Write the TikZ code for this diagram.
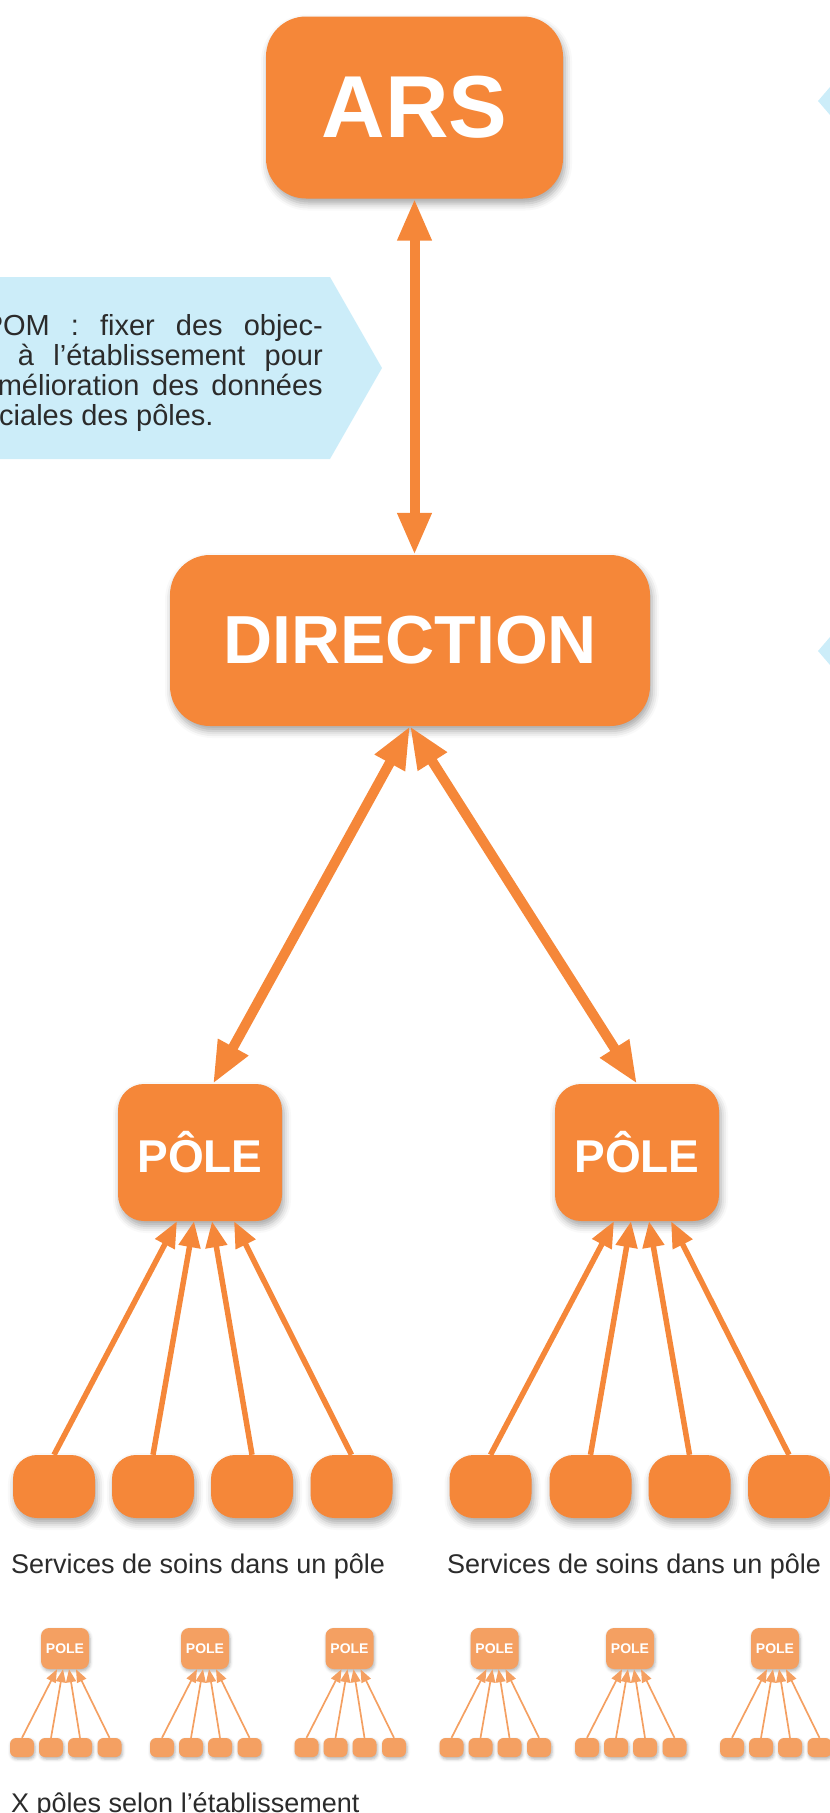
\documentclass[tikz,border=0pt]{standalone}
\usepackage{fontspec}
\setmainfont{Liberation Sans}
\usetikzlibrary{arrows.meta,shadows.blur,calc}
\definecolor{org}{HTML}{F58739}
\definecolor{orgl}{HTML}{F4A062}
\definecolor{calloutc}{HTML}{CCEDF9}
\definecolor{txt}{HTML}{2B2B2B}
\tikzset{
  bigshadow/.style={blur shadow={shadow xshift=2pt,shadow yshift=-5pt,shadow blur radius=7pt,shadow opacity=35}},
  smallshadow/.style={blur shadow={shadow xshift=1pt,shadow yshift=-2pt,shadow blur radius=3pt,shadow opacity=30}},
  bigbox/.style={fill=org, rounded corners=40pt, inner sep=0pt, text=white, font=\bfseries, bigshadow},
  polebox/.style={fill=org, rounded corners=26pt, inner sep=0pt, text=white, font=\bfseries\fontsize{46}{46}\selectfont,
    minimum width=164pt, minimum height=137pt, bigshadow},
  svcbox/.style={fill=org, rounded corners=24pt, inner sep=0pt, minimum width=82pt, minimum height=63pt, bigshadow},
  spole/.style={fill=orgl, rounded corners=8pt, inner sep=0pt, text=white, font=\bfseries\fontsize{14}{14}\selectfont,
    minimum width=48pt, minimum height=41pt, smallshadow},
  ssvc/.style={fill=orgl, rounded corners=6pt, inner sep=0pt, minimum width=24pt, minimum height=19pt, smallshadow},
  bigarrow/.style={draw=org, line width=10pt, {Triangle[width=32pt,length=42pt]}-{Triangle[width=32pt,length=42pt]}},
  midarrow/.style={draw=org, line width=5.5pt, -{Triangle[width=21pt,length=26pt]}},
  smallarrow/.style={draw=orgl, line width=1.7pt, -{Triangle[width=10pt,length=13pt]}},
  cotext/.style={inner sep=0pt, text=txt, font=\fontsize{29}{29}\selectfont},
  label/.style={inner sep=0pt, text=txt, font=\fontsize{27}{27}\selectfont, anchor=base west}
}
\begin{document}
\begin{tikzpicture}[x=1pt,y=-1pt]
\useasboundingbox (0,0) rectangle (830,1813);
\clip (0,0) rectangle (830,1813);

% callouts
\fill[calloutc] (-2,277) -- (330,277) -- (382,368) -- (330,459) -- (-2,459) -- cycle;
\fill[calloutc] (818,101) -- (830,87) -- (832,87) -- (832,115) -- (830,115) -- cycle;
\fill[calloutc] (818,651) -- (830,637) -- (832,637) -- (832,665) -- (830,665) -- cycle;

\node[cotext, anchor=base east] (c1) at (323,335) {\hbox to 339pt{POM\hfill:\hfill fixer\hfill des\hfill objec-}};
\node[cotext, anchor=base east] (c2) at (323,365) {\hbox to 305pt{à\hfill l’établissement\hfill pour}};
\node[cotext, anchor=base east] (c3) at (323,395) {\hbox to 325pt{mélioration\hfill des\hfill données}};
\node[cotext, anchor=base west] (c4) at (-1,425) {ciales des pôles.};

% main boxes
\node[bigbox, minimum width=297pt, minimum height=182pt, font=\bfseries\fontsize{88}{88}\selectfont] (ars) at (414.5,107.5) {ARS};
\node[bigbox, minimum width=480pt, minimum height=171pt, font=\bfseries\fontsize{68}{68}\selectfont] (dir) at (410,640.5) {DIRECTION};
\node[polebox] (pL) at (200,1152.5) {PÔLE};
\node[polebox] (pR) at (637,1152.5) {PÔLE};

\draw[bigarrow] (ars.south) -- (ars.south |- dir.north);
\draw[bigarrow] (dir.south) -- ([xshift=13pt]pL.north);
\draw[bigarrow] (dir.south) -- (pR.north);

% services
\foreach \i/\x/\o in {1/54/-23, 2/153/-6, 3/252/12, 4/351.5/34} {
  \node[svcbox] (sL\i) at (\x,1486.5) {};
  \draw[midarrow] (sL\i.north) -- ([xshift=\o pt]pL.south);
}
\foreach \i/\x/\o in {1/490.5/-23, 2/590.5/-6, 3/689.5/12, 4/789/34} {
  \node[svcbox] (sR\i) at (\x,1486.5) {};
  \draw[midarrow] (sR\i.north) -- ([xshift=\o pt]pR.south);
}
\node[label] (lab1) at (11,1573) {Services de soins dans un pôle};
\node[label] (lab2) at (447,1573) {Services de soins dans un pôle};

% small groups
\foreach \g/\c in {1/65, 2/205, 3/349.5, 4/494.5, 5/630, 6/775} {
  \node[spole] (sp\g) at (\c,1648.5) {POLE};
  \foreach \j/\d/\o in {1/-43/-8, 2/-14/-2, 3/15/4, 4/44.5/11} {
    \node[ssvc] (ss\g\j) at (\c+\d,1747.5) {};
    \draw[smallarrow] (ss\g\j.north) -- ([xshift=\o pt]sp\g.south);
  }
}
\node[label] (lab3) at (11,1812) {X pôles selon l’établissement};
\end{tikzpicture}
\end{document}
